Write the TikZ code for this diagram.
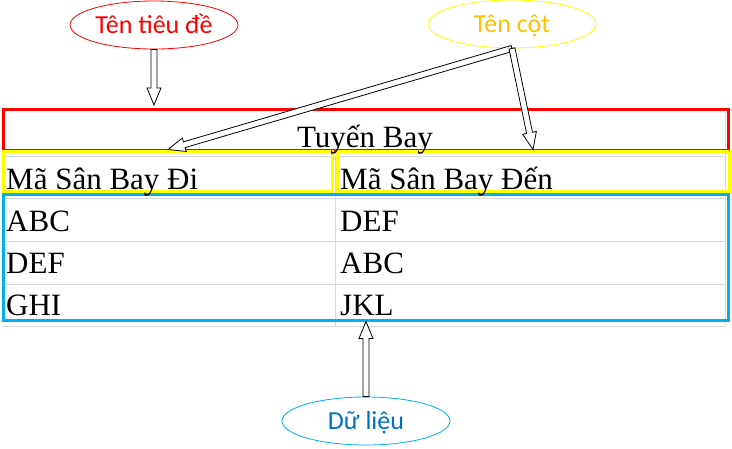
\documentclass[tikz,border=0pt]{standalone}
\usepackage{fontspec}
\setmainfont{Liberation Serif}
\newfontfamily\calibri{Carlito}
\usepackage{xcolor}
\usepackage{tikz}
\usetikzlibrary{positioning,shapes.geometric,calc}

\definecolor{titlered}{HTML}{FF0000}
\definecolor{headyellow}{HTML}{FFFF00}
\definecolor{datablue}{HTML}{00B0F0}
\definecolor{labelorange}{HTML}{FFC000}
\definecolor{labelblue}{HTML}{0070C0}
\definecolor{gridgray}{HTML}{D9D9D9}

\begin{document}
\begin{tikzpicture}[x=1pt, y=-1pt]

\tikzstyle{every node}=[font=\fontsize{31}{36}\selectfont]
\tikzstyle{cell}=[anchor=base west, inner sep=0]
\tikzstyle{colbox}=[draw, rectangle, line width=3, inner sep=0]
\tikzstyle{bubble}=[ellipse, draw, line width=0.8, minimum width=168pt, minimum height=48pt, inner sep=0,
  text height=17pt, text depth=0pt, font=\calibri\fontsize{26}{30}\selectfont]
\tikzstyle{blockarrow}=[draw=black, fill=white, line width=0.8, line join=miter,
  to path={let \p1=(\tikztostart), \p2=(\tikztotarget), \p3=($(\p2)!17pt!(\p1)$),
    \n1={atan2(\y2-\y1,\x2-\x1)} in
    ($(\p1)+(\n1-90:3pt)$) -- ($(\p3)+(\n1-90:3pt)$) -- ($(\p3)+(\n1-90:7pt)$) -- (\p2)
    -- ($(\p3)+(\n1+90:7pt)$) -- ($(\p3)+(\n1+90:3pt)$) -- ($(\p1)+(\n1+90:3pt)$) -- cycle}]

\useasboundingbox (0,0) rectangle (732,448);

% grid %
\foreach \y in {156,198,241,284,326}
  \draw[gridgray, line width=1] (3,\y) -- (725,\y);
\draw[gridgray, line width=1] (335,156) -- (335,326);
\draw[gridgray, line width=1] (725,112) -- (725,326);

% boxes %
\node[colbox, draw=titlered, minimum width=725pt, minimum height=41pt] (title) at (366,130) {};
\node[colbox, draw=headyellow, minimum width=329pt, minimum height=40pt] (headL) at (168,171) {};
\node[colbox, draw=headyellow, minimum width=392pt, minimum height=40pt] (headR) at (533,171) {};
\node[colbox, draw=datablue, minimum width=725pt, minimum height=126pt] (data) at (366,257) {};

% table text %
\node[anchor=base, inner sep=0] (titletext) at (365,147) {Tuyến Bay};
\node[cell] (hL) at (6,189) {Mã Sân Bay Đi};
\node[cell] (hR) at (340,189) {Mã Sân Bay Đến};
\foreach \a/\b [count=\i] in {ABC/DEF, DEF/ABC, GHI/JKL} {
  \node[cell] (l\i) at (6,189+42.3*\i) {\a};
  \node[cell] (r\i) at (340,189+42.3*\i) {\b};
}

% labels %
\node[bubble, draw=titlered, text=titlered] (tieude) at (154,25) {Tên tiêu đề};
\node[bubble, draw=headyellow, text=labelorange] (tencot) at (512,24) {Tên cột};
\node[bubble, draw=datablue, text=labelblue] (dulieu) at (366,421) {Dữ liệu};

% edges %
\draw[blockarrow] (tieude.south) to ($(tieude.south |- title.north)+(0,-3)$);
\draw[blockarrow] (tencot.south) to (headL.north);
\draw[blockarrow] (tencot.south) to (headR.north);
\draw[blockarrow] (dulieu.north) to (data.south);

\end{tikzpicture}
\end{document}
